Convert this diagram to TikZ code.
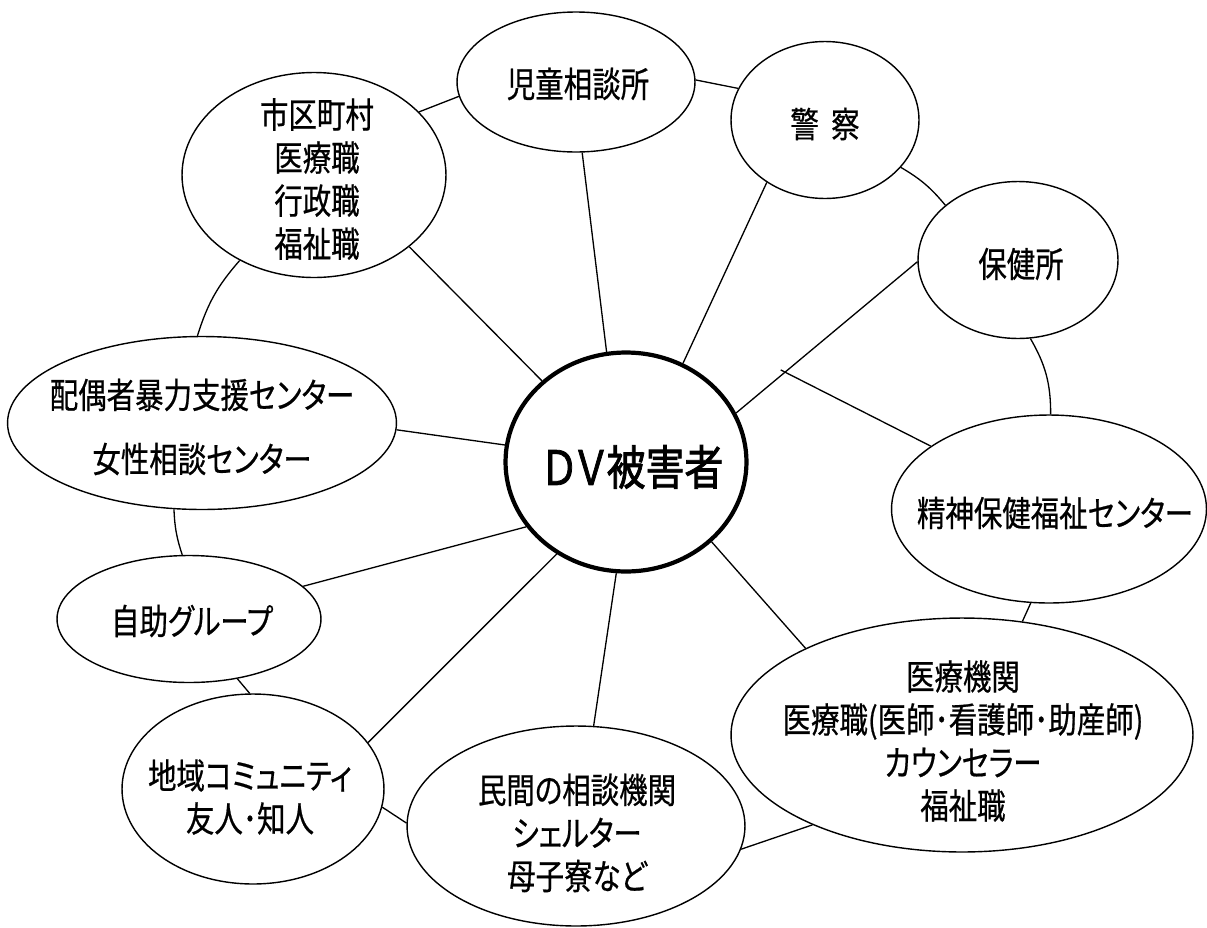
\documentclass[tikz,border=0pt]{standalone}
\usepackage{fontspec}
\newfontfamily\jp[FakeStretch=0.81,FakeBold=0.6,RawFeature={+palt}]{Noto Sans CJK JP}
\newfontfamily\jpb[FakeStretch=0.82,FakeBold=1.6,RawFeature={+palt}]{Noto Sans CJK JP}
\usetikzlibrary{shapes.geometric,calc}
\begin{document}
\begin{tikzpicture}[x=0.02cm,y=-0.02cm,
  bub/.style={ellipse,draw,line width=0.8pt,inner sep=0pt,fill=white},
  dvbub/.style={ellipse,draw,line width=2.4pt,inner sep=0pt,fill=white},
  lbl/.style={font=\jp\fontsize{20}{24.5}\selectfont,align=center,inner sep=0pt},
  dvlbl/.style={font=\jpb\fontsize{27}{30}\selectfont,inner sep=0pt},
  conn/.style={line width=0.75pt}]
\useasboundingbox[fill=white] (0,0) rectangle (1207,927);
% ellipses
\node[bub,minimum width=4.76cm,minimum height=2.80cm] (ji) at (576,82) {};
\node[bub,minimum width=3.76cm,minimum height=3.14cm] (kei) at (825,120) {};
\node[bub,minimum width=4.00cm,minimum height=3.14cm] (hoken) at (1018,260) {};
\node[bub,minimum width=6.30cm,minimum height=3.76cm] (seishin) at (1049,509) {};
\node[bub,minimum width=9.24cm,minimum height=4.68cm] (iryo) at (962,735) {};
\node[bub,minimum width=6.76cm,minimum height=4.00cm] (minkan) at (576,826) {};
\node[bub,minimum width=5.24cm,minimum height=3.80cm] (chiiki) at (253,789) {};
\node[bub,minimum width=5.28cm,minimum height=2.54cm] (jijo) at (189,619) {};
\node[bub,minimum width=7.78cm,minimum height=3.46cm] (haigu) at (202,423) {};
\node[bub,minimum width=5.28cm,minimum height=4.10cm] (shiku) at (314,175) {};
\node[dvbub,minimum width=4.82cm,minimum height=4.38cm] (dv) at (626,462) {};
% labels
\node[lbl] (jit) at (578,84) {児童相談所};
\node[lbl] (keit) at (825,124) {警\hspace{0.35em}察};
\node[lbl] (hokent) at (1021,264) {保健所};
\node[lbl] (seishint) at (1055,513) {精神保健福祉センター};
\node[lbl] (iryot) at (963,741) {医療機関\\医療職(医師･看護師･助産師)\\カウンセラー\\福祉職};
\node[lbl] (minkant) at (577,833) {民間の相談機関\\シェルター\\母子寮など};
\node[lbl] (chiikit) at (250,797) {地域コミュニティ\\友人･知人};
\node[lbl] (jijot) at (192,621) {自助グループ};
\node[lbl] (haigut) at (202,427) {配偶者暴力支援センター\\[12pt]女性相談センター};
\node[lbl] (shikut) at (317,179) {市区町村\\医療職\\行政職\\福祉職};
\node[dvlbl] (dvt) at (633,467) {ＤＶ被害者};
% radial connectors
\draw[conn] (ji.-85) -- (dv.100);
\draw[conn] (kei.-133) -- (dv.60.5);
\draw[conn] (hoken.181) -- (dv.24.6);
\coordinate (cross) at ($(hoken.181)!0.73!(dv.24.6)$);
\coordinate (tick) at ($(seishin.152)!1.03!(cross)$);
\draw[conn] (seishin.152) -- (tick);
\draw[conn] (iryo.151) -- (dv.-43);
\draw[conn] (minkan.80) -- (dv.-95);
\draw[conn] (chiiki.22) -- (dv.-127);
\draw[conn] (jijo.16) -- (dv.-147);
\draw[conn] (haigu.-2) -- (dv.172);
\draw[conn] (shiku.-37) -- (dv.136);
% ring connectors
\draw[conn] (shiku.31) -- (ji.187);
\draw[conn] (ji.1.5) -- (kei.160);
\draw[conn] (kei.-32) to[bend left=10] (hoken.143);
\draw[conn] (hoken.-81) to[bend left=15] (seishin.89);
\draw[conn] (seishin.-101) -- (iryo.62);
\draw[conn] (iryo.-149) -- (minkan.-8);
\draw[conn] (minkan.179) -- (chiiki.-8);
\draw[conn] (chiiki.92) -- (jijo.-51.5);
\draw[conn] (jijo.96) to[bend left=8] (haigu.-108);
\draw[conn] (haigu.93) to[bend left=12] (shiku.-131.5);
\end{tikzpicture}
\end{document}
